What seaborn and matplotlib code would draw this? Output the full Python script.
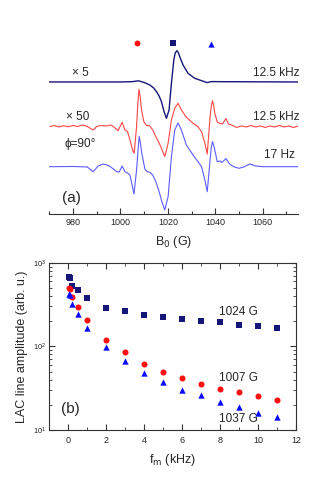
import numpy as np
import pandas as pd
import matplotlib
matplotlib.use("Agg")
import matplotlib.pyplot as plt
import seaborn as sns
from matplotlib.ticker import MultipleLocator, LogLocator, NullFormatter

# ---------------- data: panel (a) spectra (B0 in G, signal in arb. units) -------------
b_top = [970, 1000, 1005, 1007.5, 1009, 1010.5, 1012.4, 1014, 1015.2, 1016.3, 1017.3,
         1018.4, 1019.4, 1020.5, 1021.5, 1022.5, 1023.1, 1023.8, 1024.4, 1025, 1026.4,
         1028.5, 1031.3, 1034.2, 1036.5, 1038.5, 1042, 1075]
s_top = [0, 0, 0.3, 1.2, 0.2, -1, -3, -6, -9.7, -14, -19.7,
         -29.7, -36.3, -28, -1.3, 22, 29, 31.3, 29.5, 25.3, 17,
         8.7, 3.7, 1.3, -0.6, 0.4, 0.3, 0]

b_mid = [970.3, 972, 974, 976, 978, 980, 982, 984, 986, 988.5, 990, 992, 994, 996, 997.5,
         999, 1000.7, 1001.9, 1003, 1004, 1005.4, 1005.8, 1006.8, 1007.3, 1007.8, 1008.3,
         1008.9, 1009.9, 1011, 1012.4, 1013.6, 1015.2, 1016.3, 1017.3, 1018.7, 1020.1,
         1021.5, 1022.9, 1024.3, 1025.7, 1027.8, 1030.6, 1032.7, 1034.2, 1035.6, 1036.6,
         1037.8, 1038.3, 1038.8, 1039.3, 1039.8, 1040.8, 1042, 1043, 1044.5, 1045.5,
         1046.8, 1049, 1051, 1053, 1055, 1057, 1059, 1061, 1063, 1065, 1067, 1069, 1071,
         1073, 1075]
s_mid = [-0.2, 1, -0.5, 0.7, -0.3, 1, 0, 1.5, 0, -3.5, 0, 1, 0.5, 1.5, -1,
         -4.2, 4.2, -3.5, -5, -13.5, -25.5, -26.5, -0.2, 22, 37.2, 30,
         16.5, 4.5, 1, 0.5, -3.5, -11.5, -16.5, -21.8, -30.2, -16.8,
         6.5, 18.2, 23.2, 16.5, 9.2, 3.2, -0.2, -5.2, -16.8, -27.5,
         9.8, 20, 25.8, 21, 13.2, 4.5, 3, 2.5, 8, 2.5,
         1.5, -1, 0.5, -0.5, 1, -0.5, 0.5, -1, 0.5, -0.5, 1, -0.5, 0.5,
         -1, 0.5]

b_low = [970, 980, 986, 988.5, 990.6, 992.7, 995, 997, 998.4, 999.5, 1000.7, 1001.9,
         1003, 1004, 1005, 1005.7, 1006.8, 1007.4, 1007.9, 1008.4, 1009, 1010.3, 1011.2,
         1012.4, 1013.6, 1015, 1016.3, 1017.5, 1018.7, 1020.1, 1021.5, 1022.9, 1024.3,
         1025.7, 1027.8, 1030.6, 1032.7, 1034.2, 1035.6, 1036.6, 1037.8, 1038.3, 1038.8,
         1039.3, 1039.8, 1040.8, 1042, 1042.8, 1044.5, 1046, 1048, 1050, 1052, 1054.5,
         1057, 1060, 1075]
s_low = [0, 0.2, -0.3, -5, 0.7, 2.7, 1.2, -2.3, -5, -5.3, 0.7, -5,
         -6.3, -8.3, -19.3, -27.3, -3.3, 16, 30.2, 24, 13.4, -2.3, -4.8,
         -5.8, -8.3, -15.3, -25, -35.3, -43.3, -30, 10, 36.7, 43.7,
         36.7, 21.7, 11.7, 5, 0, -13.3, -25, 6.7, 19, 25.2,
         21.5, 16.7, 5, 5.7, 4.2, 8.2, 2.7, -0.3, -1.6, -0.3, 2.7,
         0.7, 0, 0]

line_fields = [1007, 1022, 1038]   # marker positions above spectra (G)

# ---------------- data: panel (b) LAC line amplitudes -------------
f_m = [0.017, 0.1, 0.2, 0.5, 1, 2, 3, 4, 5, 6, 7, 8, 9, 10, 11]
amp_1024 = [669, 650, 531, 467, 382, 290, 262, 234, 222, 211, 203, 195, 180, 175, 166]
amp_1007 = [505, 490, 385, 298, 205, 119, 85, 62, 50, 41.5, 35.5, 31.2, 28.2, 25.7, 22.8]
amp_1037 = [423, 408, 321, 243, 166, 97, 66, 47.5, 37.8, 29.8, 26.2, 21.4, 18.7, 16, 14.3]

# ---------------- style -------------
sns.set_theme(style="ticks")
plt.rcParams['font.family'] = ['Liberation Sans', 'DejaVu Sans']
plt.rcParams['axes.linewidth'] = 0.8

NAVY = "#16167a"
RED_L = "#ff4545"
BLUE_L = "#5c5cff"
RED = "#ff1010"
BLUE = "#0a0aff"
SPINE = "#333333"

fig = plt.figure(figsize=(3.32, 4.78), dpi=100)

# ---------------- panel (a) -------------
ax1 = fig.add_axes([0.1485, 0.5517, 0.75, 0.3856])
off_top, off_mid, off_low = 132.3, 87.8, 47.6
df_top = pd.DataFrame({"B": b_top, "y": np.array(s_top) + off_top})
df_mid = pd.DataFrame({"B": b_mid, "y": np.array(s_mid) + off_mid})
df_low = pd.DataFrame({"B": b_low, "y": np.array(s_low) + off_low})
sns.lineplot(data=df_top, x="B", y="y", ax=ax1, color=NAVY, lw=1.0, estimator=None)
sns.lineplot(data=df_mid, x="B", y="y", ax=ax1, color=RED_L, lw=0.8, estimator=None)
sns.lineplot(data=df_low, x="B", y="y", ax=ax1, color=BLUE_L, lw=0.8, estimator=None)

mark_y = 171.3
ax1.scatter([line_fields[0]], [mark_y], marker="o", s=18, color=RED, lw=0)
ax1.scatter([line_fields[1]], [mark_y], marker="s", s=16, color=NAVY, lw=0)
ax1.scatter([line_fields[2]], [mark_y - 0.8], marker="^", s=20, color=BLUE, lw=0)

ax1.set_xlim(970, 1075)
ax1.set_ylim(0, 184.3)
for s in ["left", "right", "top"]:
    ax1.spines[s].set_visible(False)
ax1.spines["bottom"].set_color(SPINE)
ax1.set_yticks([])
ax1.xaxis.set_major_locator(MultipleLocator(20))
ax1.xaxis.set_minor_locator(MultipleLocator(10))
ax1.tick_params(axis="x", which="major", direction="in", length=4, width=0.8,
                labelsize=6.5, pad=3, color=SPINE)
ax1.tick_params(axis="x", which="minor", direction="in", length=2.5, width=0.8,
                color=SPINE)
ax1.set_xlabel(r"B$_0$ (G)", fontsize=9, labelpad=5)
ax1.set_ylabel("")

tfs = 8.5
ax1.text(983.3, 141.6, "× 5", fontsize=tfs, ha="center", va="center")
ax1.text(1075.3, 141.6, "12.5 kHz", fontsize=tfs, ha="right", va="center")
ax1.text(981.9, 97.6, "× 50", fontsize=tfs, ha="center", va="center")
ax1.text(1075.3, 97.6, "12.5 kHz", fontsize=tfs, ha="right", va="center")
ax1.text(982.9, 70.3, "ϕ=90°", fontsize=tfs, ha="center", va="center")
ax1.text(1073.7, 59.3, "17 Hz", fontsize=tfs, ha="right", va="center")
ax1.text(979.4, 16, "(a)", fontsize=11, ha="center", va="center")

# ---------------- panel (b) -------------
ax2 = fig.add_axes([0.1485, 0.1004, 0.743, 0.35])
df_b = pd.DataFrame({"f": f_m, "a1024": amp_1024, "a1007": amp_1007, "a1037": amp_1037})
sns.scatterplot(data=df_b, x="f", y="a1024", ax=ax2, marker="s", s=16, color=NAVY,
                linewidth=0)
sns.scatterplot(data=df_b, x="f", y="a1007", ax=ax2, marker="o", s=19, color=RED,
                linewidth=0)
sns.scatterplot(data=df_b, x="f", y="a1037", ax=ax2, marker="^", s=21, color=BLUE,
                linewidth=0)
ax2.set_yscale("log")
ax2.set_xlim(-1, 12)
ax2.set_ylim(10, 1000)
for s in ax2.spines.values():
    s.set_color(SPINE)
ax2.xaxis.set_major_locator(MultipleLocator(2))
ax2.xaxis.set_minor_locator(MultipleLocator(1))
ax2.yaxis.set_major_locator(LogLocator(base=10, numticks=10))
ax2.yaxis.set_minor_locator(LogLocator(base=10, subs=np.arange(2, 10), numticks=10))
ax2.yaxis.set_minor_formatter(NullFormatter())
ax2.tick_params(which="major", direction="in", length=4, width=0.8, top=True,
                right=True, labelsize=6.5, color=SPINE)
ax2.tick_params(which="minor", direction="in", length=2.2, width=0.6, top=True,
                right=True, color=SPINE)
ax2.tick_params(axis="y", labelsize=5.5, pad=2)
ax2.tick_params(axis="x", pad=4)
ax2.set_xlabel(r"f$_\mathrm{m}$ (kHz)", fontsize=9, labelpad=5)
ax2.set_ylabel("LAC line amplitude (arb. u.)", fontsize=9, labelpad=4)

ax2.text(7.94, 259, "1024 G", fontsize=tfs, ha="left", va="center")
ax2.text(7.94, 42.2, "1007 G", fontsize=tfs, ha="left", va="center")
ax2.text(7.94, 13.5, "1037 G", fontsize=tfs, ha="left", va="center")
ax2.text(0.09, 17.7, "(b)", fontsize=11, ha="center", va="center")

fig.savefig("out.png", dpi=100)
